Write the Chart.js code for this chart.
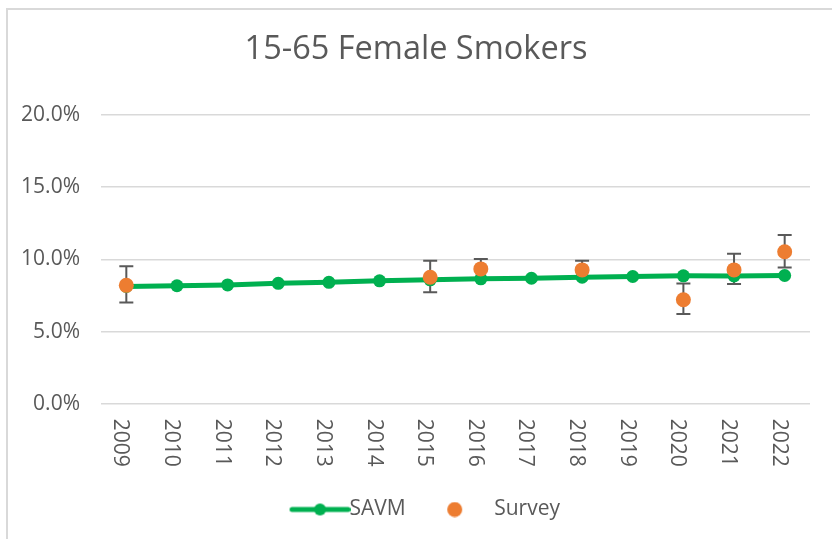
<!DOCTYPE html>
<html>
<head>
<meta charset="utf-8">
<script src="https://cdn.jsdelivr.net/npm/chart.js@4"></script>
<style>
  body { margin: 0; background: #fff; }
  #wrap { position: relative; width: 832px; height: 539px; overflow: hidden; }
  #frame { position: absolute; left: 6px; top: 8px; width: 900px; height: 600px;
           border-top: 2px solid #d9d9d9; border-left: 2px solid #d9d9d9; }
  canvas { position: absolute; left: 0; top: 0; }
</style>
</head>
<body>
<div id="wrap">
  <div id="frame"></div>
  <canvas id="myChart" width="832" height="539"></canvas>
</div>
<script>
// donnees (en %)
const years = ['2009', '2010', '2011', '2012', '2013', '2014', '2015', '2016', '2017', '2018', '2019', '2020', '2021', '2022'];
const savm = [8.12, 8.17, 8.23, 8.34, 8.41, 8.51, 8.58, 8.65, 8.69, 8.76, 8.81, 8.86, 8.85, 8.88];
const survey = [8.2, null, null, null, null, null, 8.76, 9.34, null, 9.27, null, 7.2, 9.27, 10.53];
const surveyLow = [7.01, null, null, null, null, null, 7.72, 8.7, null, 8.7, null, 6.21, 8.3, 9.43];
const surveyHigh = [9.52, null, null, null, null, null, 9.91, 10.03, null, 9.91, null, 8.32, 10.39, 11.68];
const yTicks = [0, 5, 10, 15, 20];

const green = '#00B050';
const orange = '#ED7D31';
const grey = '#595959';
const font = 'Open Sans';

// symboles de legende
function savmSymbol() {
  const c = document.createElement('canvas');
  c.width = 90; c.height = 16;
  const g = c.getContext('2d');
  g.strokeStyle = green; g.lineWidth = 5; g.lineCap = 'round';
  g.beginPath(); g.moveTo(31.5, 8); g.lineTo(87.5, 8); g.stroke();
  g.fillStyle = green;
  g.beginPath(); g.arc(59.5, 8, 6, 0, Math.PI * 2); g.fill();
  return c;
}
function surveySymbol() {
  const c = document.createElement('canvas');
  c.width = 70; c.height = 16;
  const g = c.getContext('2d');
  g.fillStyle = orange;
  g.beginPath(); g.arc(39.5, 8, 7.5, 0, Math.PI * 2); g.fill();
  return c;
}

// barres d'erreur sous les points
const errorBars = {
  id: 'errorBars',
  beforeDatasetsDraw(chart) {
    const { ctx, scales } = chart;
    ctx.save();
    ctx.strokeStyle = grey;
    ctx.lineWidth = 2;
    years.forEach((yr, i) => {
      if (surveyLow[i] == null) return;
      const x = scales.x.getPixelForValue(i);
      const y1 = scales.y.getPixelForValue(surveyLow[i]);
      const y2 = scales.y.getPixelForValue(surveyHigh[i]);
      ctx.beginPath();
      ctx.moveTo(x, y1); ctx.lineTo(x, y2);
      ctx.moveTo(x - 7, y1); ctx.lineTo(x + 7, y1);
      ctx.moveTo(x - 7, y2); ctx.lineTo(x + 7, y2);
      ctx.stroke();
    });
    ctx.restore();
  }
};

// etiquettes des annees tournees de 90 degres (lecture de haut en bas)
const yearLabels = {
  id: 'yearLabels',
  afterDraw(chart) {
    const { ctx, scales } = chart;
    ctx.save();
    ctx.fillStyle = grey;
    ctx.font = '21px "' + font + '"';
    ctx.textAlign = 'left';
    ctx.textBaseline = 'alphabetic';
    years.forEach((yr, i) => {
      const x = scales.x.getPixelForTick(i);
      ctx.save();
      ctx.translate(x - 12, scales.x.top + 15);
      ctx.rotate(Math.PI / 2);
      ctx.fillText(yr, 0, 0);
      ctx.restore();
    });
    ctx.restore();
  }
};

const ctx = document.getElementById('myChart');
new Chart(ctx, {
  type: 'line',
  data: {
    labels: years,
    datasets: [
      {
        label: 'SAVM',
        data: savm,
        borderColor: green,
        backgroundColor: green,
        borderWidth: 5,
        pointRadius: 6.5,
        pointBorderWidth: 0,
        tension: 0,
        order: 1
      },
      {
        label: 'Survey',
        data: survey,
        showLine: false,
        borderColor: orange,
        backgroundColor: orange,
        pointRadius: 7.5,
        pointBorderWidth: 0,
        order: 0
      }
    ]
  },
  options: {
    responsive: false,
    animation: false,
    layout: { padding: { left: 0, right: 0, top: 0, bottom: 9 } },
    scales: {
      x: {
        offset: true,
        grid: { display: false },
        border: { display: false },
        ticks: { display: false },
        afterFit(scale) { scale.height = 84.3; }
      },
      y: {
        min: 0,
        max: 20,
        afterBuildTicks(scale) { scale.ticks = yTicks.map(v => ({ value: v })); },
        grid: { color: '#d9d9d9', lineWidth: 1.5, drawTicks: false },
        border: { display: false },
        ticks: {
          padding: 21,
          color: grey,
          font: { family: font, size: 21 },
          callback: v => v.toFixed(1) + '%'
        },
        afterFit(scale) { scale.width = 101; }
      },
      yRight: {
        position: 'right',
        display: true,
        grid: { display: false },
        border: { display: false },
        ticks: { display: false },
        afterFit(scale) { scale.width = 22; }
      }
    },
    plugins: {
      title: {
        display: true,
        text: '15-65 Female Smokers',
        color: grey,
        font: { family: font, size: 32.5, weight: 'normal' },
        padding: { top: 30, bottom: 46 }
      },
      legend: {
        position: 'bottom',
        labels: {
          usePointStyle: true,
          pointStyleWidth: 67,
          padding: 11,
          color: grey,
          font: { family: font, size: 21 },
          generateLabels() {
            return [
              { text: 'SAVM', pointStyle: savmSymbol(), fontColor: grey, lineWidth: 0, datasetIndex: 0 },
              { text: 'Survey', pointStyle: surveySymbol(), fontColor: grey, lineWidth: 0, datasetIndex: 1 }
            ];
          }
        }
      },
      tooltip: { enabled: false }
    }
  },
  plugins: [errorBars, yearLabels]
});
</script>
</body>
</html>
